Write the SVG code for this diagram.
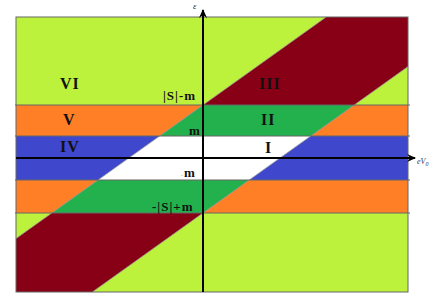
<svg xmlns="http://www.w3.org/2000/svg" width="436" height="300" viewBox="0 0 436 300">
<defs>
<style>
.lime{fill:#BDF23C}
.org{fill:#FF7F27}
.blue{fill:#3F48CC}
.grn{fill:#22B14C}
.mar{fill:#880015}
.wht{fill:#FFFFFF}
.hl{stroke:#666;stroke-width:1;fill:none}
.dg{stroke:#9a9a9a;stroke-width:0.8;fill:none}
.ax{stroke:#000;stroke-width:2;fill:none}
.rn{font-family:"Liberation Serif","Times New Roman",serif;font-weight:bold;font-size:16px;letter-spacing:1px;fill:#111}
.lb{font-family:"Liberation Serif","Times New Roman",serif;font-weight:bold;font-size:13px;letter-spacing:1px;fill:#111}
</style>
<marker id="arr" markerWidth="10" markerHeight="10" refX="8" refY="5" orient="auto" markerUnits="userSpaceOnUse">
<path d="M0,1 L9,5 L0,9 L3,5 Z" fill="#000"/>
</marker>
</defs>
<rect x="0" y="0" width="436" height="300" fill="#fff"/>
<g id="bands">
<rect class="lime" x="16" y="17" width="392" height="88"/>
<rect class="org" x="16" y="105" width="392" height="31"/>
<rect class="blue" x="16" y="136" width="392" height="44"/>
<rect class="org" x="16" y="180" width="392" height="33"/>
<rect class="lime" x="16" y="213" width="392" height="79"/>
</g>
<g id="stripe">
<polygon class="mar" points="326.2,17 408,17 408,66.6 354.2,105 203,105"/>
<polygon class="grn" points="203,105 354.2,105 310.8,136 159.6,136"/>
<polygon class="wht" points="159.6,136 310.8,136 249.2,180 98,180"/>
<polygon class="grn" points="98,180 249.2,180 203,213 51.8,213"/>
<polygon class="mar" points="51.8,213 203,213 92.4,292 16,292 16,238.6"/>
</g>
<g id="lines">
<line class="dg" x1="326.2" y1="17" x2="16" y2="238.6"/>
<line class="dg" x1="408" y1="66.6" x2="92.4" y2="292"/>
<line class="hl" x1="15" y1="105" x2="410" y2="105"/>
<line class="hl" x1="15" y1="136" x2="410" y2="136"/>
<line class="hl" x1="15" y1="180" x2="410" y2="180"/>
<line class="hl" x1="15" y1="213" x2="410" y2="213"/>
<rect class="hl" x="16" y="17" width="392" height="275"/>
</g>
<g id="axes">
<line class="ax" x1="16" y1="158" x2="415" y2="158" marker-end="url(#arr)"/>
<line class="ax" x1="203" y1="292" x2="203" y2="10" marker-end="url(#arr)"/>
<text x="193" y="9" font-family="Liberation Serif, serif" font-style="italic" font-size="9" fill="#333">ε</text>
<text x="417" y="164" font-family="Liberation Serif, serif" font-style="italic" font-size="8" fill="#334">eV<tspan font-size="6" dy="2">0</tspan></text>
</g>
<g id="labels">
<text class="rn" x="60" y="89">VI</text>
<text class="rn" x="63" y="125">V</text>
<text class="rn" x="60" y="152">IV</text>
<text class="rn" x="259" y="89">III</text>
<text class="rn" x="261" y="125">II</text>
<text class="rn" x="265" y="153">I</text>
<text class="lb" x="163" y="100">|S|-m</text>
<text class="lb" x="189" y="135">m</text>
<text class="lb" x="181" y="177"><tspan fill="#c9a080" font-size="6">-</tspan>m</text>
<text class="lb" x="152" y="211">-|S|+m</text>
</g>
</svg>
